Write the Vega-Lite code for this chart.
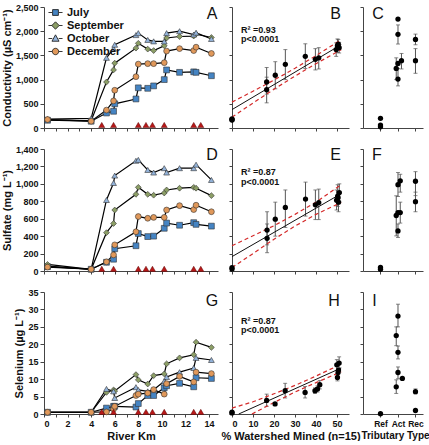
{
  "$schema": "https://vega.github.io/schema/vega-lite/v6.json",
  "background": "white",
  "padding": {"left": 1, "top": 3, "right": 5, "bottom": 0},
  "datasets": {
    "river": [
      {"km":0.3,"month":"July","cond":160,"sulf":50,"se":0.5},
      {"km":4.0,"month":"July","cond":140,"sulf":20,"se":0.5},
      {"km":5.3,"month":"July","cond":310,"sulf":100,"se":1.7},
      {"km":5.9,"month":"July","cond":345,"sulf":135,"se":2.2},
      {"km":6.0,"month":"July","cond":500,"sulf":255,"se":2.2},
      {"km":7.8,"month":"July","cond":600,"sulf":290,"se":2.0},
      {"km":8.0,"month":"July","cond":830,"sulf":430,"se":3.0},
      {"km":8.8,"month":"July","cond":820,"sulf":395,"se":5.3},
      {"km":9.3,"month":"July","cond":870,"sulf":400,"se":5.3},
      {"km":10.2,"month":"July","cond":1000,"sulf":490,"se":7.5},
      {"km":10.4,"month":"July","cond":1200,"sulf":550,"se":8.1},
      {"km":11.5,"month":"July","cond":1150,"sulf":525,"se":8.8},
      {"km":12.7,"month":"July","cond":1160,"sulf":555,"se":7.8},
      {"km":12.9,"month":"July","cond":1150,"sulf":535,"se":10.4},
      {"km":14.2,"month":"July","cond":1080,"sulf":515,"se":10.2},
      {"km":0.3,"month":"September","cond":170,"sulf":75,"se":0.5},
      {"km":4.0,"month":"September","cond":150,"sulf":20,"se":0.5},
      {"km":5.3,"month":"September","cond":950,"sulf":440,"se":6.2},
      {"km":5.9,"month":"September","cond":1200,"sulf":545,"se":6.9},
      {"km":6.0,"month":"September","cond":1340,"sulf":700,"se":6.6},
      {"km":7.8,"month":"September","cond":1650,"sulf":880,"se":11.3},
      {"km":8.0,"month":"September","cond":1750,"sulf":960,"se":9.8},
      {"km":8.8,"month":"September","cond":1630,"sulf":880,"se":8.6},
      {"km":9.3,"month":"September","cond":1600,"sulf":870,"se":11.0},
      {"km":10.2,"month":"September","cond":1700,"sulf":895,"se":11.5},
      {"km":10.4,"month":"September","cond":1860,"sulf":930,"se":14.4},
      {"km":11.5,"month":"September","cond":1890,"sulf":950,"se":16.1},
      {"km":12.7,"month":"September","cond":1900,"sulf":960,"se":17.0},
      {"km":12.9,"month":"September","cond":1940,"sulf":950,"se":20.6},
      {"km":14.2,"month":"September","cond":1870,"sulf":865,"se":19.1},
      {"km":0.3,"month":"October","cond":185,"sulf":55,"se":0.5},
      {"km":4.0,"month":"October","cond":200,"sulf":20,"se":0.5},
      {"km":5.3,"month":"October","cond":1450,"sulf":815,"se":7.2},
      {"km":5.9,"month":"October","cond":1640,"sulf":1010,"se":6.5},
      {"km":6.0,"month":"October","cond":1720,"sulf":1095,"se":4.6},
      {"km":7.8,"month":"October","cond":1920,"sulf":1265,"se":7.7},
      {"km":8.0,"month":"October","cond":1960,"sulf":1275,"se":6.9},
      {"km":8.8,"month":"October","cond":1820,"sulf":1160,"se":6.5},
      {"km":9.3,"month":"October","cond":1790,"sulf":1130,"se":7.0},
      {"km":10.2,"month":"October","cond":1790,"sulf":1180,"se":9.4},
      {"km":10.4,"month":"October","cond":1960,"sulf":1130,"se":10.6},
      {"km":11.5,"month":"October","cond":2000,"sulf":1180,"se":12.0},
      {"km":12.7,"month":"October","cond":1930,"sulf":1180,"se":13.2},
      {"km":12.9,"month":"October","cond":1970,"sulf":1220,"se":16.1},
      {"km":14.2,"month":"October","cond":1840,"sulf":1045,"se":15.5},
      {"km":0.3,"month":"December","cond":175,"sulf":45,"se":0.5},
      {"km":4.0,"month":"December","cond":140,"sulf":20,"se":0.5},
      {"km":5.3,"month":"December","cond":370,"sulf":105,"se":0.6},
      {"km":5.9,"month":"December","cond":560,"sulf":185,"se":1.4},
      {"km":6.0,"month":"December","cond":780,"sulf":300,"se":2.2},
      {"km":7.8,"month":"December","cond":1060,"sulf":450,"se":5.3},
      {"km":8.0,"month":"December","cond":1320,"sulf":625,"se":5.7},
      {"km":8.8,"month":"December","cond":1330,"sulf":605,"se":6.0},
      {"km":9.3,"month":"December","cond":1330,"sulf":615,"se":7.0},
      {"km":10.2,"month":"December","cond":1350,"sulf":615,"se":5.7},
      {"km":10.4,"month":"December","cond":1590,"sulf":700,"se":8.7},
      {"km":11.5,"month":"December","cond":1640,"sulf":750,"se":10.8},
      {"km":12.7,"month":"December","cond":1600,"sulf":705,"se":9.2},
      {"km":12.9,"month":"December","cond":1670,"sulf":755,"se":12.0},
      {"km":14.2,"month":"December","cond":1540,"sulf":680,"se":11.6}
    ],
    "mines": [{"km":4.9},{"km":5.9},{"km":8.0},{"km":8.65},{"km":9.2},{"km":10.2},{"km":12.7},{"km":13.3}],
    "mined": [
      {"var":"cond","pct":0,"v":190},{"var":"cond","pct":0,"v":165},{"var":"cond","pct":0,"v":175},
      {"var":"cond","pct":16.5,"v":950,"lo":700,"hi":1250},{"var":"cond","pct":16.5,"v":790,"lo":520,"hi":1050},
      {"var":"cond","pct":20.6,"v":1090,"lo":810,"hi":1370},{"var":"cond","pct":25.4,"v":1315,"lo":1000,"hi":1620},
      {"var":"cond","pct":34.9,"v":1480,"lo":1230,"hi":1740},{"var":"cond","pct":39.7,"v":1420,"lo":1200,"hi":1640},
      {"var":"cond","pct":41.3,"v":1450,"lo":1220,"hi":1660},{"var":"cond","pct":49.6,"v":1620,"lo":1480,"hi":1760},
      {"var":"cond","pct":50.2,"v":1700,"lo":1560,"hi":1840},{"var":"cond","pct":50.6,"v":1735,"lo":1640,"hi":1830},
      {"var":"cond","pct":51.0,"v":1660,"lo":1550,"hi":1770},{"var":"cond","pct":50.4,"v":1680},
      {"var":"sulf","pct":0,"v":38},{"var":"sulf","pct":0,"v":22},
      {"var":"sulf","pct":16.7,"v":470,"lo":300,"hi":680},{"var":"sulf","pct":16.7,"v":375,"lo":210,"hi":540},
      {"var":"sulf","pct":20.6,"v":595,"lo":400,"hi":790},{"var":"sulf","pct":25.4,"v":730,"lo":500,"hi":930},
      {"var":"sulf","pct":35.0,"v":825,"lo":630,"hi":1020},{"var":"sulf","pct":39.7,"v":760,"lo":590,"hi":930},
      {"var":"sulf","pct":41.3,"v":785,"lo":590,"hi":940},{"var":"sulf","pct":49.8,"v":813,"lo":700,"hi":930},
      {"var":"sulf","pct":50.3,"v":860,"lo":740,"hi":990},{"var":"sulf","pct":50.7,"v":790,"lo":680,"hi":900},
      {"var":"sulf","pct":51.1,"v":900,"lo":800,"hi":1000},{"var":"sulf","pct":50.5,"v":840},
      {"var":"se","pct":0,"v":0.3},{"var":"se","pct":0,"v":0.5},
      {"var":"se","pct":16.5,"v":3.9,"lo":2.2,"hi":5.7},{"var":"se","pct":20.5,"v":2.9},
      {"var":"se","pct":25.3,"v":6.7,"lo":4.6,"hi":8.8},{"var":"se","pct":34.8,"v":6.2,"lo":4.6,"hi":7.9},
      {"var":"se","pct":39.5,"v":6.7,"lo":5.9,"hi":7.5},{"var":"se","pct":40.7,"v":7.2,"lo":6.3,"hi":8.1},
      {"var":"se","pct":41.8,"v":8.4,"lo":7.2,"hi":9.6},{"var":"se","pct":49.9,"v":14.1,"lo":12.5,"hi":15.6},
      {"var":"se","pct":50.5,"v":11.9,"lo":10.8,"hi":13.0},{"var":"se","pct":50.2,"v":10.5,"lo":9.5,"hi":11.6},
      {"var":"se","pct":51.0,"v":14.6,"lo":13.2,"hi":16.4},{"var":"se","pct":50.7,"v":12.6}
    ],
    "fit": [
      {"var":"cond","line":"fit","pct":0,"v":380},{"var":"cond","line":"fit","pct":52,"v":1722},
      {"var":"cond","line":"upper","pct":0,"v":535},{"var":"cond","line":"upper","pct":10,"v":760},{"var":"cond","line":"upper","pct":20,"v":990},{"var":"cond","line":"upper","pct":30,"v":1235},{"var":"cond","line":"upper","pct":40,"v":1495},{"var":"cond","line":"upper","pct":52,"v":1825},
      {"var":"cond","line":"lower","pct":0,"v":225},{"var":"cond","line":"lower","pct":10,"v":516},{"var":"cond","line":"lower","pct":20,"v":802},{"var":"cond","line":"lower","pct":30,"v":1073},{"var":"cond","line":"lower","pct":40,"v":1329},{"var":"cond","line":"lower","pct":52,"v":1619},
      {"var":"sulf","line":"fit","pct":0,"v":165},{"var":"sulf","line":"fit","pct":52,"v":888},
      {"var":"sulf","line":"upper","pct":0,"v":290},{"var":"sulf","line":"upper","pct":10,"v":405},{"var":"sulf","line":"upper","pct":20,"v":520},{"var":"sulf","line":"upper","pct":30,"v":650},{"var":"sulf","line":"upper","pct":40,"v":790},{"var":"sulf","line":"upper","pct":52,"v":990},
      {"var":"sulf","line":"lower","pct":0,"v":40},{"var":"sulf","line":"lower","pct":10,"v":200},{"var":"sulf","line":"lower","pct":20,"v":365},{"var":"sulf","line":"lower","pct":30,"v":515},{"var":"sulf","line":"lower","pct":40,"v":650},{"var":"sulf","line":"lower","pct":52,"v":786},
      {"var":"se","line":"fit","pct":3.2,"v":0},{"var":"se","line":"fit","pct":52,"v":13.2},
      {"var":"se","line":"upper","pct":0,"v":1.7},{"var":"se","line":"upper","pct":10,"v":3.5},{"var":"se","line":"upper","pct":20,"v":5.8},{"var":"se","line":"upper","pct":30,"v":8.2},{"var":"se","line":"upper","pct":40,"v":10.9},{"var":"se","line":"upper","pct":52,"v":14.3},
      {"var":"se","line":"lower","pct":9.5,"v":0},{"var":"se","line":"lower","pct":20,"v":3.3},{"var":"se","line":"lower","pct":30,"v":6.3},{"var":"se","line":"lower","pct":40,"v":9.0},{"var":"se","line":"lower","pct":52,"v":12.1}
    ],
    "trib": [
      {"var":"cond","tx":1,"v":200},{"var":"cond","tx":1,"v":60},{"var":"cond","tx":1,"v":25},
      {"var":"cond","tx":2,"v":2250},{"var":"cond","tx":2,"v":1935,"lo":1735,"hi":2130},
      {"var":"cond","tx":1.9,"v":1230,"lo":1000,"hi":1450},{"var":"cond","tx":2,"v":1335},
      {"var":"cond","tx":2.2,"v":1390,"lo":1220,"hi":1540},{"var":"cond","tx":2,"v":1010,"lo":870,"hi":1230},
      {"var":"cond","tx":3,"v":1830,"lo":1720,"hi":1940},{"var":"cond","tx":3,"v":1390,"lo":1130,"hi":1640},
      {"var":"sulf","tx":1,"v":20},{"var":"sulf","tx":1,"v":40},
      {"var":"sulf","tx":2,"v":990,"lo":855,"hi":1130},{"var":"sulf","tx":2.13,"v":1035,"lo":905,"hi":1110},
      {"var":"sulf","tx":1.9,"v":637,"lo":403,"hi":863},{"var":"sulf","tx":2,"v":670},
      {"var":"sulf","tx":2.13,"v":670,"lo":550,"hi":790},{"var":"sulf","tx":2,"v":460,"lo":385,"hi":540},
      {"var":"sulf","tx":3,"v":1030,"lo":865,"hi":1140},{"var":"sulf","tx":3,"v":795,"lo":680,"hi":905},
      {"var":"se","tx":1,"v":0.1},
      {"var":"se","tx":2,"v":28.1,"lo":25.0,"hi":31.5},{"var":"se","tx":1.9,"v":22.5,"lo":19.6,"hi":25.0},
      {"var":"se","tx":2,"v":17.7,"lo":15.8,"hi":19.5},{"var":"se","tx":2,"v":11.9,"lo":10.1,"hi":13.5},
      {"var":"se","tx":2.25,"v":10.2},{"var":"se","tx":1.9,"v":7.8,"lo":5.9,"hi":9.8},
      {"var":"se","tx":3,"v":6.4,"lo":5.8,"hi":7.2},{"var":"se","tx":3,"v":1.0}
    ]
  },
  "config": {
    "view": {"stroke": null},
    "font": "Liberation Sans",
    "axis": {"grid": false, "domainColor": "#444", "tickColor": "#444", "tickSize": 4, "labelFont": "Liberation Sans", "labelFontSize": 9, "labelFontWeight": "bold", "labelColor": "#111", "titleFont": "Liberation Sans", "titleFontSize": 11, "titleFontWeight": "bold", "titleColor": "#111", "labelPadding": 2, "titlePadding": 3, "labelOverlap": false},
    "legend": {"labelFont": "Liberation Sans"}
  },
  "resolve": {"scale": {"color": "independent", "shape": "independent"}, "legend": {"color": "independent", "shape": "independent"}},
  "bounds": "flush",
  "columns": 3,
  "spacing": {"row": 21, "column": 14},
  "concat": [
    {
      "width": 174, "height": 121,
      "resolve": {"scale": {"color": "independent", "shape": "independent"}},
      "layer": [
        {"data": {"name": "river"}, "transform": [{"fold": ["cond"], "as": ["var", "v"]}],
         "mark": {"type": "line", "color": "black", "strokeWidth": 1.2},
         "encoding": {
           "x": {"field": "km", "type": "quantitative", "scale": {"domain": [0, 14.76], "nice": false, "zero": false}, "axis": {"values": [0,1,2,3,4,5,6,7,8,9,10,11,12,13,14], "labels": false, "title": null, "tickSize": 3}},
           "y": {"field": "v", "type": "quantitative", "scale": {"domain": [0, 2500], "nice": false}, "axis": {"values": [0,500,1000,1500,2000,2500], "format": ",d", "title": "Conductivity (µS cm⁻¹)"}},
           "detail": {"field": "month"}}},
        {"data": {"name": "river"}, "transform": [{"fold": ["cond"], "as": ["var", "v"]}],
         "mark": {"type": "point", "filled": true, "size": 34, "stroke": "#333", "strokeWidth": 0.6, "opacity": 1},
         "encoding": {
           "x": {"field": "km", "type": "quantitative", "scale": {"domain": [0, 14.76], "nice": false, "zero": false}, "axis": {"values": [0,1,2,3,4,5,6,7,8,9,10,11,12,13,14], "labels": false, "title": null, "tickSize": 3}},
           "y": {"field": "v", "type": "quantitative", "scale": {"domain": [0, 2500], "nice": false}, "axis": {"values": [0,500,1000,1500,2000,2500], "format": ",d", "title": "Conductivity (µS cm⁻¹)"}},
           "color": {"field": "month", "type": "nominal", "scale": {"domain": ["July","September","October","December"], "range": ["#4584c3","#8c9e66","#93b3da","#e0985a"]}, "legend": null},
           "shape": {"field": "month", "type": "nominal", "scale": {"domain": ["July","September","October","December"], "range": ["square","diamond","triangle-up","circle"]}, "legend": null}}},
        {"data": {"name": "river"}, "transform": [{"filter": "false"}, {"fold": ["cond"], "as": ["var", "v"]}],
         "mark": {"type": "point", "filled": true, "stroke": "#222", "strokeWidth": 0.9, "opacity": 1},
         "encoding": {
           "x": {"field": "km", "type": "quantitative", "scale": {"domain": [0, 14.76], "nice": false, "zero": false}, "axis": {"values": [0,1,2,3,4,5,6,7,8,9,10,11,12,13,14], "labels": false, "title": null, "tickSize": 3}},
           "y": {"field": "v", "type": "quantitative", "scale": {"domain": [0, 2500], "nice": false}, "axis": {"values": [0,500,1000,1500,2000,2500], "format": ",d", "title": "Conductivity (µS cm⁻¹)"}},
           "color": {"field": "month", "type": "nominal", "scale": {"domain": ["July","September","October","December"], "range": ["#4584c3","#8c9e66","#93b3da","#e0985a"]},
             "legend": {"title": null, "orient": "none", "legendX": 6, "legendY": 0, "padding": 0, "labelFontSize": 11, "labelFontWeight": "bold", "labelColor": "#111", "symbolSize": 41, "rowPadding": 1, "labelOffset": 6, "symbolStrokeColor": "#222", "symbolStrokeWidth": 0.9}},
           "shape": {"field": "month", "type": "nominal", "scale": {"domain": ["July","September","October","December"], "range": ["M-2.2,0H-1M1,0H2.2M-0.9,-0.9H0.9V0.9H-0.9Z", "M-2.2,0H-1.1M1.1,0H2.2M0,-1.15L1.15,0L0,1.15L-1.15,0Z", "M-2.2,0H-1M1,0H2.2M0,-1.15L1.1,0.85H-1.1Z", "M-2.2,0H-1M1,0H2.2M-1,0A1,1,0,1,1,1,0A1,1,0,1,1,-1,0Z"]},
             "legend": {"title": null, "orient": "none", "legendX": 6, "legendY": 0, "padding": 0, "labelFontSize": 11, "labelFontWeight": "bold", "labelColor": "#111", "symbolSize": 41, "rowPadding": 1, "labelOffset": 6, "symbolStrokeColor": "#222", "symbolStrokeWidth": 0.9}}}},
        {"data": {"name": "mines"}, "mark": {"type": "point", "shape": "triangle-up", "filled": true, "size": 36, "color": "#b81818", "stroke": "#5a0000", "strokeWidth": 0.5, "opacity": 1},
         "encoding": {
           "x": {"field": "km", "type": "quantitative", "scale": {"domain": [0, 14.76], "nice": false, "zero": false}, "axis": {"values": [0,1,2,3,4,5,6,7,8,9,10,11,12,13,14], "labels": false, "title": null, "tickSize": 3}},
           "y": {"datum": 62, "type": "quantitative", "scale": {"domain": [0, 2500], "nice": false}, "axis": {"values": [0,500,1000,1500,2000,2500], "format": ",d", "title": "Conductivity (µS cm⁻¹)"}}}},
        {"data": {"values": [{}]}, "mark": {"type": "text", "text": "A", "fontSize": 16, "color": "#111", "baseline": "middle", "align": "center"},
         "encoding": {
           "x": {"datum": 14.25, "type": "quantitative", "scale": {"domain": [0, 14.76], "nice": false, "zero": false}, "axis": {"values": [0,1,2,3,4,5,6,7,8,9,10,11,12,13,14], "labels": false, "title": null, "tickSize": 3}},
           "y": {"datum": 2355, "type": "quantitative", "scale": {"domain": [0, 2500], "nice": false}, "axis": {"values": [0,500,1000,1500,2000,2500], "format": ",d", "title": "Conductivity (µS cm⁻¹)"}}}}
      ]
    },
    {
      "width": 117, "height": 121,
      "layer": [
        {"data": {"name": "mined"}, "transform": [{"filter": "datum.var === 'cond' && isValid(datum.lo)"}],
         "mark": {"type": "errorbar", "ticks": {"size": 4, "color": "#555"}, "rule": {"color": "#555"}},
         "encoding": {
           "x": {"field": "pct", "type": "quantitative", "scale": {"domain": [0, 55.7], "nice": false}, "axis": {"values": [0,10,20,30,40,50], "labels": false, "title": null, "tickSize": 3}},
           "y": {"field": "lo", "type": "quantitative", "scale": {"domain": [0, 2500], "nice": false}, "axis": {"values": [0,500,1000,1500,2000,2500], "labels": false, "title": null, "tickSize": 3}},
           "y2": {"field": "hi"}}},
        {"data": {"name": "fit"}, "transform": [{"filter": "datum.var === 'cond' && datum.line !== 'fit'"}],
         "mark": {"type": "line", "color": "#d42a2a", "strokeWidth": 1.2, "strokeDash": [4, 3]},
         "encoding": {
           "x": {"field": "pct", "type": "quantitative", "scale": {"domain": [0, 55.7], "nice": false}, "axis": {"values": [0,10,20,30,40,50], "labels": false, "title": null, "tickSize": 3}},
           "y": {"field": "v", "type": "quantitative", "scale": {"domain": [0, 2500], "nice": false}, "axis": {"values": [0,500,1000,1500,2000,2500], "labels": false, "title": null, "tickSize": 3}},
           "detail": {"field": "line"}}},
        {"data": {"name": "fit"}, "transform": [{"filter": "datum.var === 'cond' && datum.line === 'fit'"}],
         "mark": {"type": "line", "color": "#111", "strokeWidth": 1},
         "encoding": {
           "x": {"field": "pct", "type": "quantitative", "scale": {"domain": [0, 55.7], "nice": false}, "axis": {"values": [0,10,20,30,40,50], "labels": false, "title": null, "tickSize": 3}},
           "y": {"field": "v", "type": "quantitative", "scale": {"domain": [0, 2500], "nice": false}, "axis": {"values": [0,500,1000,1500,2000,2500], "labels": false, "title": null, "tickSize": 3}}}},
        {"data": {"name": "mined"}, "transform": [{"filter": "datum.var === 'cond'"}],
         "mark": {"type": "circle", "size": 28, "color": "#000", "opacity": 1},
         "encoding": {
           "x": {"field": "pct", "type": "quantitative", "scale": {"domain": [0, 55.7], "nice": false}, "axis": {"values": [0,10,20,30,40,50], "labels": false, "title": null, "tickSize": 3}},
           "y": {"field": "v", "type": "quantitative", "scale": {"domain": [0, 2500], "nice": false}, "axis": {"values": [0,500,1000,1500,2000,2500], "labels": false, "title": null, "tickSize": 3}}}},
        {"data": {"values": [{"t": "R² =0.93", "v": 2025}, {"t": "p<0.0001", "v": 1840}]},
         "mark": {"type": "text", "fontSize": 9, "fontWeight": "bold", "align": "left", "baseline": "middle", "color": "#111"},
         "encoding": {
           "x": {"datum": 4.3, "type": "quantitative", "scale": {"domain": [0, 55.7], "nice": false}, "axis": {"values": [0,10,20,30,40,50], "labels": false, "title": null, "tickSize": 3}},
           "y": {"field": "v", "type": "quantitative", "scale": {"domain": [0, 2500], "nice": false}, "axis": {"values": [0,500,1000,1500,2000,2500], "labels": false, "title": null, "tickSize": 3}},
           "text": {"field": "t"}}},
        {"data": {"values": [{}]}, "mark": {"type": "text", "text": "B", "fontSize": 16, "color": "#111", "baseline": "middle", "align": "center"},
         "encoding": {
           "x": {"datum": 49.3, "type": "quantitative", "scale": {"domain": [0, 55.7], "nice": false}, "axis": {"values": [0,10,20,30,40,50], "labels": false, "title": null, "tickSize": 3}},
           "y": {"datum": 2355, "type": "quantitative", "scale": {"domain": [0, 2500], "nice": false}, "axis": {"values": [0,500,1000,1500,2000,2500], "labels": false, "title": null, "tickSize": 3}}}}
      ]
    },
    {
      "width": 60, "height": 121,
      "layer": [
        {"data": {"name": "trib"}, "transform": [{"filter": "datum.var === 'cond' && isValid(datum.lo)"}],
         "mark": {"type": "errorbar", "ticks": {"size": 4, "color": "#555"}, "rule": {"color": "#555"}},
         "encoding": {
           "x": {"field": "tx", "type": "quantitative", "scale": {"domain": [0, 3.43], "nice": false, "zero": false}, "axis": {"values": [1,2,3], "labels": false, "title": null, "tickSize": 3}},
           "y": {"field": "lo", "type": "quantitative", "scale": {"domain": [0, 2500], "nice": false}, "axis": {"values": [0,500,1000,1500,2000,2500], "labels": false, "title": null, "tickSize": 3}},
           "y2": {"field": "hi"}}},
        {"data": {"name": "trib"}, "transform": [{"filter": "datum.var === 'cond'"}],
         "mark": {"type": "circle", "size": 28, "color": "#000", "opacity": 1},
         "encoding": {
           "x": {"field": "tx", "type": "quantitative", "scale": {"domain": [0, 3.43], "nice": false, "zero": false}, "axis": {"values": [1,2,3], "labels": false, "title": null, "tickSize": 3}},
           "y": {"field": "v", "type": "quantitative", "scale": {"domain": [0, 2500], "nice": false}, "axis": {"values": [0,500,1000,1500,2000,2500], "labels": false, "title": null, "tickSize": 3}}}},
        {"data": {"values": [{}]}, "mark": {"type": "text", "text": "C", "fontSize": 16, "color": "#111", "baseline": "middle", "align": "center"},
         "encoding": {
           "x": {"datum": 0.86, "type": "quantitative", "scale": {"domain": [0, 3.43], "nice": false, "zero": false}, "axis": {"values": [1,2,3], "labels": false, "title": null, "tickSize": 3}},
           "y": {"datum": 2355, "type": "quantitative", "scale": {"domain": [0, 2500], "nice": false}, "axis": {"values": [0,500,1000,1500,2000,2500], "labels": false, "title": null, "tickSize": 3}}}}
      ]
    },
    {
      "width": 174, "height": 122,
      "layer": [
        {"data": {"name": "river"}, "transform": [{"fold": ["sulf"], "as": ["var", "v"]}],
         "mark": {"type": "line", "color": "black", "strokeWidth": 1.2},
         "encoding": {
           "x": {"field": "km", "type": "quantitative", "scale": {"domain": [0, 14.76], "nice": false, "zero": false}, "axis": {"values": [0,1,2,3,4,5,6,7,8,9,10,11,12,13,14], "labels": false, "title": null, "tickSize": 3}},
           "y": {"field": "v", "type": "quantitative", "scale": {"domain": [0, 1400], "nice": false}, "axis": {"values": [0,200,400,600,800,1000,1200,1400], "format": ",d", "title": "Sulfate (mg L⁻¹)"}},
           "detail": {"field": "month"}}},
        {"data": {"name": "river"}, "transform": [{"fold": ["sulf"], "as": ["var", "v"]}],
         "mark": {"type": "point", "filled": true, "size": 34, "stroke": "#333", "strokeWidth": 0.6, "opacity": 1},
         "encoding": {
           "x": {"field": "km", "type": "quantitative", "scale": {"domain": [0, 14.76], "nice": false, "zero": false}, "axis": {"values": [0,1,2,3,4,5,6,7,8,9,10,11,12,13,14], "labels": false, "title": null, "tickSize": 3}},
           "y": {"field": "v", "type": "quantitative", "scale": {"domain": [0, 1400], "nice": false}, "axis": {"values": [0,200,400,600,800,1000,1200,1400], "format": ",d", "title": "Sulfate (mg L⁻¹)"}},
           "color": {"field": "month", "type": "nominal", "scale": {"domain": ["July","September","October","December"], "range": ["#4584c3","#8c9e66","#93b3da","#e0985a"]}, "legend": null},
           "shape": {"field": "month", "type": "nominal", "scale": {"domain": ["July","September","October","December"], "range": ["square","diamond","triangle-up","circle"]}, "legend": null}}},
        {"data": {"name": "mines"}, "mark": {"type": "point", "shape": "triangle-up", "filled": true, "size": 36, "color": "#b81818", "stroke": "#5a0000", "strokeWidth": 0.5, "opacity": 1},
         "encoding": {
           "x": {"field": "km", "type": "quantitative", "scale": {"domain": [0, 14.76], "nice": false, "zero": false}, "axis": {"values": [0,1,2,3,4,5,6,7,8,9,10,11,12,13,14], "labels": false, "title": null, "tickSize": 3}},
           "y": {"datum": 25, "type": "quantitative", "scale": {"domain": [0, 1400], "nice": false}, "axis": {"values": [0,200,400,600,800,1000,1200,1400], "format": ",d", "title": "Sulfate (mg L⁻¹)"}}}},
        {"data": {"values": [{}]}, "mark": {"type": "text", "text": "D", "fontSize": 16, "color": "#111", "baseline": "middle", "align": "center"},
         "encoding": {
           "x": {"datum": 14.25, "type": "quantitative", "scale": {"domain": [0, 14.76], "nice": false, "zero": false}, "axis": {"values": [0,1,2,3,4,5,6,7,8,9,10,11,12,13,14], "labels": false, "title": null, "tickSize": 3}},
           "y": {"datum": 1330, "type": "quantitative", "scale": {"domain": [0, 1400], "nice": false}, "axis": {"values": [0,200,400,600,800,1000,1200,1400], "format": ",d", "title": "Sulfate (mg L⁻¹)"}}}}
      ]
    },
    {
      "width": 117, "height": 122,
      "layer": [
        {"data": {"name": "mined"}, "transform": [{"filter": "datum.var === 'sulf' && isValid(datum.lo)"}],
         "mark": {"type": "errorbar", "ticks": {"size": 4, "color": "#555"}, "rule": {"color": "#555"}},
         "encoding": {
           "x": {"field": "pct", "type": "quantitative", "scale": {"domain": [0, 55.7], "nice": false}, "axis": {"values": [0,10,20,30,40,50], "labels": false, "title": null, "tickSize": 3}},
           "y": {"field": "lo", "type": "quantitative", "scale": {"domain": [0, 1400], "nice": false}, "axis": {"values": [0,200,400,600,800,1000,1200,1400], "labels": false, "title": null, "tickSize": 3}},
           "y2": {"field": "hi"}}},
        {"data": {"name": "fit"}, "transform": [{"filter": "datum.var === 'sulf' && datum.line !== 'fit'"}],
         "mark": {"type": "line", "color": "#d42a2a", "strokeWidth": 1.2, "strokeDash": [4, 3]},
         "encoding": {
           "x": {"field": "pct", "type": "quantitative", "scale": {"domain": [0, 55.7], "nice": false}, "axis": {"values": [0,10,20,30,40,50], "labels": false, "title": null, "tickSize": 3}},
           "y": {"field": "v", "type": "quantitative", "scale": {"domain": [0, 1400], "nice": false}, "axis": {"values": [0,200,400,600,800,1000,1200,1400], "labels": false, "title": null, "tickSize": 3}},
           "detail": {"field": "line"}}},
        {"data": {"name": "fit"}, "transform": [{"filter": "datum.var === 'sulf' && datum.line === 'fit'"}],
         "mark": {"type": "line", "color": "#111", "strokeWidth": 1},
         "encoding": {
           "x": {"field": "pct", "type": "quantitative", "scale": {"domain": [0, 55.7], "nice": false}, "axis": {"values": [0,10,20,30,40,50], "labels": false, "title": null, "tickSize": 3}},
           "y": {"field": "v", "type": "quantitative", "scale": {"domain": [0, 1400], "nice": false}, "axis": {"values": [0,200,400,600,800,1000,1200,1400], "labels": false, "title": null, "tickSize": 3}}}},
        {"data": {"name": "mined"}, "transform": [{"filter": "datum.var === 'sulf'"}],
         "mark": {"type": "circle", "size": 28, "color": "#000", "opacity": 1},
         "encoding": {
           "x": {"field": "pct", "type": "quantitative", "scale": {"domain": [0, 55.7], "nice": false}, "axis": {"values": [0,10,20,30,40,50], "labels": false, "title": null, "tickSize": 3}},
           "y": {"field": "v", "type": "quantitative", "scale": {"domain": [0, 1400], "nice": false}, "axis": {"values": [0,200,400,600,800,1000,1200,1400], "labels": false, "title": null, "tickSize": 3}}}},
        {"data": {"values": [{"t": "R² =0.87", "v": 1135}, {"t": "p<0.0001", "v": 1026}]},
         "mark": {"type": "text", "fontSize": 9, "fontWeight": "bold", "align": "left", "baseline": "middle", "color": "#111"},
         "encoding": {
           "x": {"datum": 4.3, "type": "quantitative", "scale": {"domain": [0, 55.7], "nice": false}, "axis": {"values": [0,10,20,30,40,50], "labels": false, "title": null, "tickSize": 3}},
           "y": {"field": "v", "type": "quantitative", "scale": {"domain": [0, 1400], "nice": false}, "axis": {"values": [0,200,400,600,800,1000,1200,1400], "labels": false, "title": null, "tickSize": 3}},
           "text": {"field": "t"}}},
        {"data": {"values": [{}]}, "mark": {"type": "text", "text": "E", "fontSize": 16, "color": "#111", "baseline": "middle", "align": "center"},
         "encoding": {
           "x": {"datum": 49.3, "type": "quantitative", "scale": {"domain": [0, 55.7], "nice": false}, "axis": {"values": [0,10,20,30,40,50], "labels": false, "title": null, "tickSize": 3}},
           "y": {"datum": 1330, "type": "quantitative", "scale": {"domain": [0, 1400], "nice": false}, "axis": {"values": [0,200,400,600,800,1000,1200,1400], "labels": false, "title": null, "tickSize": 3}}}}
      ]
    },
    {
      "width": 60, "height": 122,
      "layer": [
        {"data": {"name": "trib"}, "transform": [{"filter": "datum.var === 'sulf' && isValid(datum.lo)"}],
         "mark": {"type": "errorbar", "ticks": {"size": 4, "color": "#555"}, "rule": {"color": "#555"}},
         "encoding": {
           "x": {"field": "tx", "type": "quantitative", "scale": {"domain": [0, 3.43], "nice": false, "zero": false}, "axis": {"values": [1,2,3], "labels": false, "title": null, "tickSize": 3}},
           "y": {"field": "lo", "type": "quantitative", "scale": {"domain": [0, 1400], "nice": false}, "axis": {"values": [0,200,400,600,800,1000,1200,1400], "labels": false, "title": null, "tickSize": 3}},
           "y2": {"field": "hi"}}},
        {"data": {"name": "trib"}, "transform": [{"filter": "datum.var === 'sulf'"}],
         "mark": {"type": "circle", "size": 28, "color": "#000", "opacity": 1},
         "encoding": {
           "x": {"field": "tx", "type": "quantitative", "scale": {"domain": [0, 3.43], "nice": false, "zero": false}, "axis": {"values": [1,2,3], "labels": false, "title": null, "tickSize": 3}},
           "y": {"field": "v", "type": "quantitative", "scale": {"domain": [0, 1400], "nice": false}, "axis": {"values": [0,200,400,600,800,1000,1200,1400], "labels": false, "title": null, "tickSize": 3}}}},
        {"data": {"values": [{}]}, "mark": {"type": "text", "text": "F", "fontSize": 16, "color": "#111", "baseline": "middle", "align": "center"},
         "encoding": {
           "x": {"datum": 0.8, "type": "quantitative", "scale": {"domain": [0, 3.43], "nice": false, "zero": false}, "axis": {"values": [1,2,3], "labels": false, "title": null, "tickSize": 3}},
           "y": {"datum": 1330, "type": "quantitative", "scale": {"domain": [0, 1400], "nice": false}, "axis": {"values": [0,200,400,600,800,1000,1200,1400], "labels": false, "title": null, "tickSize": 3}}}}
      ]
    },
    {
      "width": 174, "height": 122,
      "layer": [
        {"data": {"name": "river"}, "transform": [{"fold": ["se"], "as": ["var", "v"]}],
         "mark": {"type": "line", "color": "black", "strokeWidth": 1.2},
         "encoding": {
           "x": {"field": "km", "type": "quantitative", "scale": {"domain": [0, 14.76], "nice": false, "zero": false}, "axis": {"values": [0,1,2,3,4,5,6,7,8,9,10,11,12,13,14], "labelExpr": "datum.value % 2 === 0 ? datum.label : ''", "title": "River Km", "titlePadding": 2, "tickSize": 3}},
           "y": {"field": "v", "type": "quantitative", "scale": {"domain": [0, 35], "nice": false}, "axis": {"values": [0,5,10,15,20,25,30,35], "format": "d", "title": "Selenium (µg L⁻¹)"}},
           "detail": {"field": "month"}}},
        {"data": {"name": "river"}, "transform": [{"fold": ["se"], "as": ["var", "v"]}],
         "mark": {"type": "point", "filled": true, "size": 34, "stroke": "#333", "strokeWidth": 0.6, "opacity": 1},
         "encoding": {
           "x": {"field": "km", "type": "quantitative", "scale": {"domain": [0, 14.76], "nice": false, "zero": false}, "axis": {"values": [0,1,2,3,4,5,6,7,8,9,10,11,12,13,14], "labelExpr": "datum.value % 2 === 0 ? datum.label : ''", "title": "River Km", "titlePadding": 2, "tickSize": 3}},
           "y": {"field": "v", "type": "quantitative", "scale": {"domain": [0, 35], "nice": false}, "axis": {"values": [0,5,10,15,20,25,30,35], "format": "d", "title": "Selenium (µg L⁻¹)"}},
           "color": {"field": "month", "type": "nominal", "scale": {"domain": ["July","September","October","December"], "range": ["#4584c3","#8c9e66","#93b3da","#e0985a"]}, "legend": null},
           "shape": {"field": "month", "type": "nominal", "scale": {"domain": ["July","September","October","December"], "range": ["square","diamond","triangle-up","circle"]}, "legend": null}}},
        {"data": {"name": "mines"}, "mark": {"type": "point", "shape": "triangle-up", "filled": true, "size": 36, "color": "#b81818", "stroke": "#5a0000", "strokeWidth": 0.5, "opacity": 1},
         "encoding": {
           "x": {"field": "km", "type": "quantitative", "scale": {"domain": [0, 14.76], "nice": false, "zero": false}, "axis": {"values": [0,1,2,3,4,5,6,7,8,9,10,11,12,13,14], "labelExpr": "datum.value % 2 === 0 ? datum.label : ''", "title": "River Km", "titlePadding": 2, "tickSize": 3}},
           "y": {"datum": 0.6, "type": "quantitative", "scale": {"domain": [0, 35], "nice": false}, "axis": {"values": [0,5,10,15,20,25,30,35], "format": "d", "title": "Selenium (µg L⁻¹)"}}}},
        {"data": {"values": [{}]}, "mark": {"type": "text", "text": "G", "fontSize": 16, "color": "#111", "baseline": "middle", "align": "center"},
         "encoding": {
           "x": {"datum": 14.25, "type": "quantitative", "scale": {"domain": [0, 14.76], "nice": false, "zero": false}, "axis": {"values": [0,1,2,3,4,5,6,7,8,9,10,11,12,13,14], "labelExpr": "datum.value % 2 === 0 ? datum.label : ''", "title": "River Km", "titlePadding": 2, "tickSize": 3}},
           "y": {"datum": 32.4, "type": "quantitative", "scale": {"domain": [0, 35], "nice": false}, "axis": {"values": [0,5,10,15,20,25,30,35], "format": "d", "title": "Selenium (µg L⁻¹)"}}}}
      ]
    },
    {
      "width": 117, "height": 122,
      "layer": [
        {"data": {"name": "mined"}, "transform": [{"filter": "datum.var === 'se' && isValid(datum.lo)"}],
         "mark": {"type": "errorbar", "ticks": {"size": 4, "color": "#555"}, "rule": {"color": "#555"}},
         "encoding": {
           "x": {"field": "pct", "type": "quantitative", "scale": {"domain": [0, 55.7], "nice": false}, "axis": {"values": [0,10,20,30,40,50], "format": "d", "title": "% Watershed Mined (n=15)", "titlePadding": 2, "tickSize": 3}},
           "y": {"field": "lo", "type": "quantitative", "scale": {"domain": [0, 35], "nice": false}, "axis": {"values": [0,5,10,15,20,25,30,35], "labels": false, "title": null, "tickSize": 3}},
           "y2": {"field": "hi"}}},
        {"data": {"name": "fit"}, "transform": [{"filter": "datum.var === 'se' && datum.line !== 'fit'"}],
         "mark": {"type": "line", "color": "#d42a2a", "strokeWidth": 1.2, "strokeDash": [4, 3]},
         "encoding": {
           "x": {"field": "pct", "type": "quantitative", "scale": {"domain": [0, 55.7], "nice": false}, "axis": {"values": [0,10,20,30,40,50], "format": "d", "title": "% Watershed Mined (n=15)", "titlePadding": 2, "tickSize": 3}},
           "y": {"field": "v", "type": "quantitative", "scale": {"domain": [0, 35], "nice": false}, "axis": {"values": [0,5,10,15,20,25,30,35], "labels": false, "title": null, "tickSize": 3}},
           "detail": {"field": "line"}}},
        {"data": {"name": "fit"}, "transform": [{"filter": "datum.var === 'se' && datum.line === 'fit'"}],
         "mark": {"type": "line", "color": "#111", "strokeWidth": 1},
         "encoding": {
           "x": {"field": "pct", "type": "quantitative", "scale": {"domain": [0, 55.7], "nice": false}, "axis": {"values": [0,10,20,30,40,50], "format": "d", "title": "% Watershed Mined (n=15)", "titlePadding": 2, "tickSize": 3}},
           "y": {"field": "v", "type": "quantitative", "scale": {"domain": [0, 35], "nice": false}, "axis": {"values": [0,5,10,15,20,25,30,35], "labels": false, "title": null, "tickSize": 3}}}},
        {"data": {"name": "mined"}, "transform": [{"filter": "datum.var === 'se'"}],
         "mark": {"type": "circle", "size": 28, "color": "#000", "opacity": 1},
         "encoding": {
           "x": {"field": "pct", "type": "quantitative", "scale": {"domain": [0, 55.7], "nice": false}, "axis": {"values": [0,10,20,30,40,50], "format": "d", "title": "% Watershed Mined (n=15)", "titlePadding": 2, "tickSize": 3}},
           "y": {"field": "v", "type": "quantitative", "scale": {"domain": [0, 35], "nice": false}, "axis": {"values": [0,5,10,15,20,25,30,35], "labels": false, "title": null, "tickSize": 3}}}},
        {"data": {"values": [{"t": "R² =0.87", "v": 26.8}, {"t": "p<0.0001", "v": 24.0}]},
         "mark": {"type": "text", "fontSize": 9, "fontWeight": "bold", "align": "left", "baseline": "middle", "color": "#111"},
         "encoding": {
           "x": {"datum": 4.3, "type": "quantitative", "scale": {"domain": [0, 55.7], "nice": false}, "axis": {"values": [0,10,20,30,40,50], "format": "d", "title": "% Watershed Mined (n=15)", "titlePadding": 2, "tickSize": 3}},
           "y": {"field": "v", "type": "quantitative", "scale": {"domain": [0, 35], "nice": false}, "axis": {"values": [0,5,10,15,20,25,30,35], "labels": false, "title": null, "tickSize": 3}},
           "text": {"field": "t"}}},
        {"data": {"values": [{}]}, "mark": {"type": "text", "text": "H", "fontSize": 16, "color": "#111", "baseline": "middle", "align": "center"},
         "encoding": {
           "x": {"datum": 48.6, "type": "quantitative", "scale": {"domain": [0, 55.7], "nice": false}, "axis": {"values": [0,10,20,30,40,50], "format": "d", "title": "% Watershed Mined (n=15)", "titlePadding": 2, "tickSize": 3}},
           "y": {"datum": 32.4, "type": "quantitative", "scale": {"domain": [0, 35], "nice": false}, "axis": {"values": [0,5,10,15,20,25,30,35], "labels": false, "title": null, "tickSize": 3}}}}
      ]
    },
    {
      "width": 60, "height": 122,
      "layer": [
        {"data": {"name": "trib"}, "transform": [{"filter": "datum.var === 'se' && isValid(datum.lo)"}],
         "mark": {"type": "errorbar", "ticks": {"size": 4, "color": "#555"}, "rule": {"color": "#555"}},
         "encoding": {
           "x": {"field": "tx", "type": "quantitative", "scale": {"domain": [0, 3.43], "nice": false, "zero": false}, "axis": {"values": [1,2,3], "labelExpr": "['','Ref','Act','Rec'][datum.value]", "labelFontSize": 8.5, "title": "Tributary Type", "titleFontSize": 10, "titlePadding": 3, "titleX": 32, "titleAlign": "center", "tickSize": 3}},
           "y": {"field": "lo", "type": "quantitative", "scale": {"domain": [0, 35], "nice": false}, "axis": {"values": [0,5,10,15,20,25,30,35], "labels": false, "title": null, "tickSize": 3}},
           "y2": {"field": "hi"}}},
        {"data": {"name": "trib"}, "transform": [{"filter": "datum.var === 'se'"}],
         "mark": {"type": "circle", "size": 28, "color": "#000", "opacity": 1},
         "encoding": {
           "x": {"field": "tx", "type": "quantitative", "scale": {"domain": [0, 3.43], "nice": false, "zero": false}, "axis": {"values": [1,2,3], "labelExpr": "['','Ref','Act','Rec'][datum.value]", "labelFontSize": 8.5, "title": "Tributary Type", "titleFontSize": 10, "titlePadding": 3, "titleX": 32, "titleAlign": "center", "tickSize": 3}},
           "y": {"field": "v", "type": "quantitative", "scale": {"domain": [0, 35], "nice": false}, "axis": {"values": [0,5,10,15,20,25,30,35], "labels": false, "title": null, "tickSize": 3}}}},
        {"data": {"values": [{}]}, "mark": {"type": "text", "text": "I", "fontSize": 16, "color": "#111", "baseline": "middle", "align": "center"},
         "encoding": {
           "x": {"datum": 0.66, "type": "quantitative", "scale": {"domain": [0, 3.43], "nice": false, "zero": false}, "axis": {"values": [1,2,3], "labelExpr": "['','Ref','Act','Rec'][datum.value]", "labelFontSize": 8.5, "title": "Tributary Type", "titleFontSize": 10, "titlePadding": 3, "titleX": 32, "titleAlign": "center", "tickSize": 3}},
           "y": {"datum": 32.4, "type": "quantitative", "scale": {"domain": [0, 35], "nice": false}, "axis": {"values": [0,5,10,15,20,25,30,35], "labels": false, "title": null, "tickSize": 3}}}}
      ]
    }
  ]
}
